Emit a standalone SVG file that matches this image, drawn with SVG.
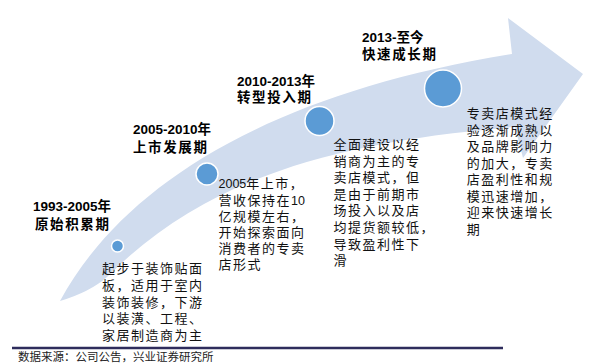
<svg xmlns="http://www.w3.org/2000/svg" width="615" height="364" viewBox="0 0 615 364">
<style>
.title{font-family:"Liberation Sans","Noto Sans CJK SC",sans-serif;font-size:13.5px;font-weight:bold;fill:#000;}
.tcn{letter-spacing:1.6px;}
.body{font-family:"Noto Sans CJK SC","Liberation Sans",sans-serif;font-size:13px;fill:#111;letter-spacing:1.5px;}
.num{font-family:"Liberation Sans",sans-serif;font-size:12.5px;letter-spacing:0;}
.dot{fill:#5B9BD5;stroke:#FFFFFF;stroke-width:1.5;}
.foot{font-family:"Noto Sans CJK SC","Liberation Sans",sans-serif;font-size:11.5px;fill:#222;}
</style>
<g id="connectors">
<path id="arrow" d="M60,301 C120,190 260,95 512,54 L508,18 L583,74 L523,158 L515,127 C315,143 197,187 107,277 Q90,292 60,301 Z" fill="#D0DCEE"/>
</g>
<g id="node1">
<circle class="dot" cx="117.5" cy="246" r="6"/>
<text class="title" x="33" y="210.5">1993-2005年</text>
<text class="title tcn" x="35" y="228.5">原始积累期</text>
<text class="body" x="102" y="273">起步于装饰贴面</text>
<text class="body" x="102" y="290">板，适用于室内</text>
<text class="body" x="102" y="306.5">装饰装修，下游</text>
<text class="body" x="102" y="323">以装潢、工程、</text>
<text class="body" x="102" y="340">家居制造商为主</text>
</g>
<g id="node2">
<circle class="dot" cx="207" cy="174" r="11"/>
<text class="title" x="133" y="134">2005-2010年</text>
<text class="title tcn" x="133" y="152">上市发展期</text>
<text class="body" x="218.5" y="188.3"><tspan class="num">2005</tspan>年上市，</text>
<text class="body" x="218.5" y="204.5">营收保持在<tspan class="num">10</tspan></text>
<text class="body" x="218.5" y="220.7">亿规模左右，</text>
<text class="body" x="218.5" y="236.9">开始探索面向</text>
<text class="body" x="218.5" y="253.1">消费者的专卖</text>
<text class="body" x="218.5" y="269.3">店形式</text>
</g>
<g id="node3">
<circle class="dot" cx="319.5" cy="121" r="14.5"/>
<text class="title" x="237" y="85.7">2010-2013年</text>
<text class="title tcn" x="237" y="102.3">转型投入期</text>
<text class="body" x="333.5" y="149">全面建设以经</text>
<text class="body" x="333.5" y="165.6">销商为主的专</text>
<text class="body" x="333.5" y="182.2">卖店模式，但</text>
<text class="body" x="333.5" y="198.8">是由于前期市</text>
<text class="body" x="333.5" y="215.4">场投入以及店</text>
<text class="body" x="333.5" y="232">均提货额较低，</text>
<text class="body" x="333.5" y="248.6">导致盈利性下</text>
<text class="body" x="333.5" y="265.2">滑</text>
</g>
<g id="node4">
<circle class="dot" cx="443" cy="88.5" r="18.5"/>
<text class="title" x="362" y="41.7">2013-至今</text>
<text class="title tcn" x="362" y="59.3">快速成长期</text>
<text class="body" x="466.7" y="118.3">专卖店模式经</text>
<text class="body" x="466.7" y="134.8">验逐渐成熟以</text>
<text class="body" x="466.7" y="151.3">及品牌影响力</text>
<text class="body" x="466.7" y="167.8">的加大，专卖</text>
<text class="body" x="466.7" y="184.3">店盈利性和规</text>
<text class="body" x="466.7" y="200.8">模迅速增加，</text>
<text class="body" x="466.7" y="217.3">迎来快速增长</text>
<text class="body" x="466.7" y="233.8">期</text>
</g>
<g id="footer">
<line x1="12" y1="348" x2="503" y2="348" stroke="#2E2C5C" stroke-width="2.5"/>
<text class="foot" x="18" y="361">数据来源：公司公告，兴业证券研究所</text>
</g>
</svg>
